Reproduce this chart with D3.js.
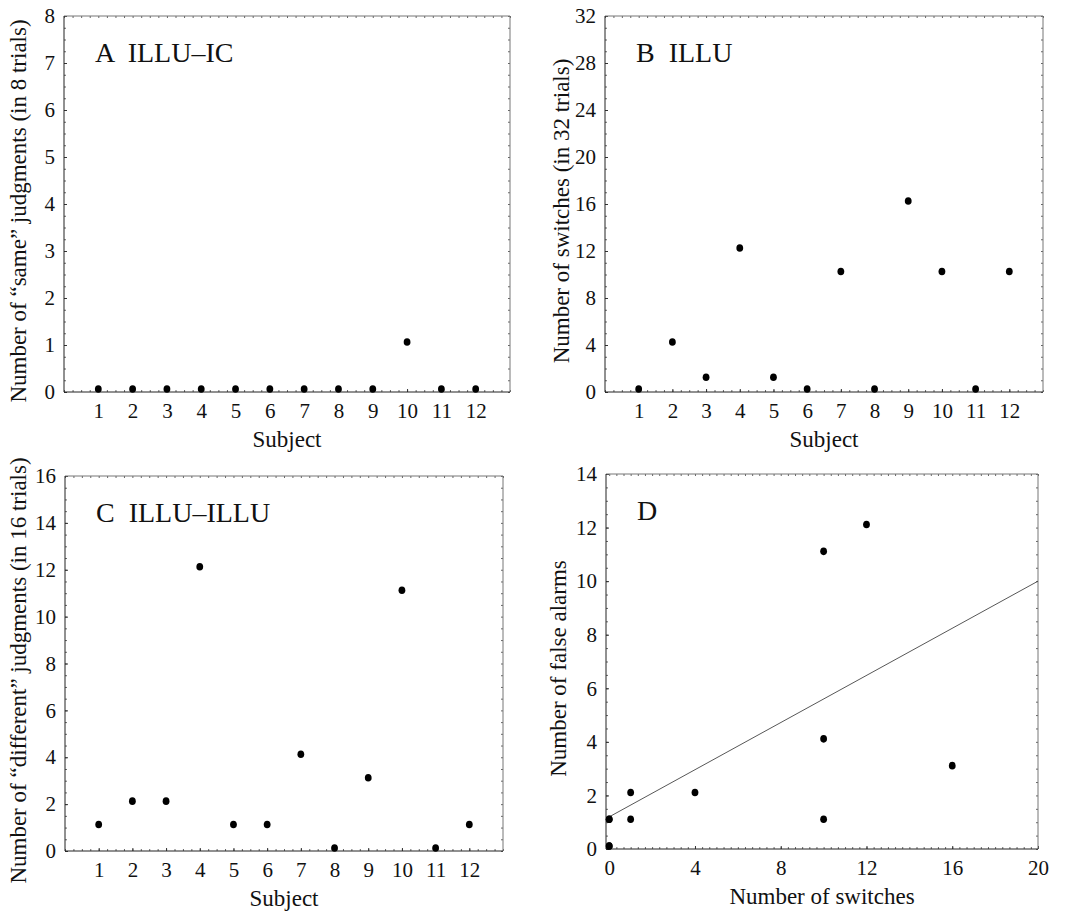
<!DOCTYPE html>
<html>
<head>
<meta charset="utf-8">
<script src="https://cdn.jsdelivr.net/npm/d3@7"></script>
<style>
  body { margin: 0; background: #fff; }
  svg text { font-family: "Liberation Serif", "Times New Roman", Times, "DejaVu Serif", serif; fill: #111; }
</style>
</head>
<body>
<script>
var width = 1070,
    height = 913;
var serif = "'Liberation Serif', 'Times New Roman', Times, 'DejaVu Serif', serif";

// data
var subjects = [1, 2, 3, 4, 5, 6, 7, 8, 9, 10, 11, 12];
var sameJudgments = [0, 0, 0, 0, 0, 0, 0, 0, 0, 1, 0, 0];          // A ILLU-IC
var switches = [0, 4, 1, 12, 1, 0, 10, 0, 16, 10, 0, 10];           // B ILLU
var differentJudgments = [1, 2, 2, 12, 1, 1, 4, 0, 3, 11, 0, 1];    // C ILLU-ILLU
var fitIntercept = 1.2,  // D fitted line
    fitSlope = 0.44;

var svg = d3.select("body").append("svg")
    .attr("width", width)
    .attr("height", height)
    .style("font-family", serif);

// panel frames in page pixels
var panels = [
  { label: "A  ILLU\u2013IC", box: [64, 510, 16, 392], titleX: 18,
    xDomain: [0, 13], xTicks: subjects, xMinor: 0.25,
    yDomain: [0, 8], yTicks: d3.range(0, 9, 1), yMinor: 0.25,
    xTitle: "Subject", yTitle: "Number of \u201csame\u201d judgments (in 8 trials)",
    points: subjects.map(function(s, i) { return [s, sameJudgments[i]]; }) },
  { label: "B  ILLU", box: [605, 1043, 16, 392], titleX: 561,
    xDomain: [0, 13], xTicks: subjects, xMinor: 0.25,
    yDomain: [0, 32], yTicks: d3.range(0, 33, 4), yMinor: 1,
    xTitle: "Subject", yTitle: "Number of switches (in 32 trials)",
    points: subjects.map(function(s, i) { return [s, switches[i]]; }) },
  { label: "C  ILLU\u2013ILLU", box: [65, 503, 476, 851], titleX: 18,
    xDomain: [0, 13], xTicks: subjects, xMinor: 0.25,
    yDomain: [0, 16], yTicks: d3.range(0, 17, 2), yMinor: 0.5,
    xTitle: "Subject", yTitle: "Number of \u201cdifferent\u201d judgments (in 16 trials)",
    points: subjects.map(function(s, i) { return [s, differentJudgments[i]]; }) },
  { label: "D", box: [606, 1038, 474, 849], titleX: 558,
    xDomain: [-0.15, 20], xTicks: d3.range(0, 21, 4), xMinor: 1 / 3,
    yDomain: [0, 14], yTicks: d3.range(0, 15, 2), yMinor: 0.5,
    xTitle: "Number of switches", yTitle: "Number of false alarms",
    points: switches.map(function(s, i) { return [s, differentJudgments[i]]; }),
    fit: true }
];

panels.forEach(function(p) {
  var l = p.box[0], r = p.box[1], t = p.box[2], b = p.box[3];
  var x = d3.scaleLinear().domain(p.xDomain).range([l, r]);
  var y = d3.scaleLinear().domain(p.yDomain).range([b, t]);
  var g = svg.append("g");

  var minorX = d3.range(Math.ceil(p.xDomain[0] / p.xMinor) * p.xMinor, p.xDomain[1] + 1e-6, p.xMinor);
  var minorY = d3.range(p.yDomain[0], p.yDomain[1] + 1e-6, p.yMinor);

  // minor ticks on all four sides, pointing inward
  function minor(axis, tx, ty) {
    var a = g.append("g").attr("transform", "translate(" + tx + "," + ty + ")")
      .call(axis.tickSize(-2).tickFormat(""));
    a.select(".domain").remove();
    a.selectAll("line").attr("stroke", "#666");
  }
  minor(d3.axisBottom(x).tickValues(minorX), 0, b);
  minor(d3.axisTop(x).tickValues(minorX), 0, t);
  minor(d3.axisLeft(y).tickValues(minorY), l, 0);
  minor(d3.axisRight(y).tickValues(minorY), r, 0);

  // labelled axes
  var xa = g.append("g").attr("transform", "translate(0," + b + ")")
    .call(d3.axisBottom(x).tickValues(p.xTicks).tickSize(-3).tickPadding(11));
  var ya = g.append("g").attr("transform", "translate(" + l + ",0)")
    .call(d3.axisLeft(y).tickValues(p.yTicks).tickSize(-3).tickPadding(9));
  [xa, ya].forEach(function(a) {
    a.attr("font-family", null).attr("font-size", null);
    a.select(".domain").remove();
    a.selectAll("line").attr("stroke", "#333");
    a.selectAll("text")
      .style("font-family", serif)
      .style("font-size", "21px")
      .attr("fill", "#111");
  });
  xa.selectAll("text").attr("dy", "0.71em");

  // frame: left/bottom dark, top/right a bit lighter
  g.append("path")
    .attr("d", "M" + l + "," + t + "H" + r + "V" + b)
    .attr("fill", "none")
    .attr("stroke", "#777")
    .attr("stroke-width", 1);
  g.append("path")
    .attr("d", "M" + l + "," + t + "V" + b + "H" + r)
    .attr("fill", "none")
    .attr("stroke", "#222")
    .attr("stroke-width", 1);

  // fitted line
  if (p.fit) {
    var x0 = p.xDomain[0], x1 = p.xDomain[1];
    g.append("line")
      .attr("x1", x(x0)).attr("y1", y(fitIntercept + fitSlope * x0))
      .attr("x2", x(x1)).attr("y2", y(fitIntercept + fitSlope * x1))
      .attr("stroke", "#444")
      .attr("stroke-width", 0.9);
  }

  // points
  g.selectAll("ellipse")
    .data(p.points)
    .enter().append("ellipse")
    .attr("cx", function(d) { return x(d[0]); })
    .attr("cy", function(d) { return y(d[1]) - 3; })
    .attr("rx", 3.4)
    .attr("ry", 3.8)
    .attr("fill", "#000");

  // panel label
  g.append("text")
    .attr("x", x(p.xDomain[0]) + 31)
    .attr("y", t + 46)
    .style("font-family", serif)
    .style("font-size", "28px")
    .style("white-space", "pre")
    .text(p.label);

  // axis titles
  g.append("text")
    .attr("x", (l + r) / 2)
    .attr("y", b + 55)
    .attr("text-anchor", "middle")
    .style("font-family", serif)
    .style("font-size", "23px")
    .text(p.xTitle);

  g.append("text")
    .attr("transform", "translate(" + (p.titleX + 8) + "," + ((t + b) / 2 + 7) + ") rotate(-90)")
    .attr("text-anchor", "middle")
    .style("font-family", serif)
    .style("font-size", "23px")
    .text(p.yTitle);
});
</script>
</body>
</html>
